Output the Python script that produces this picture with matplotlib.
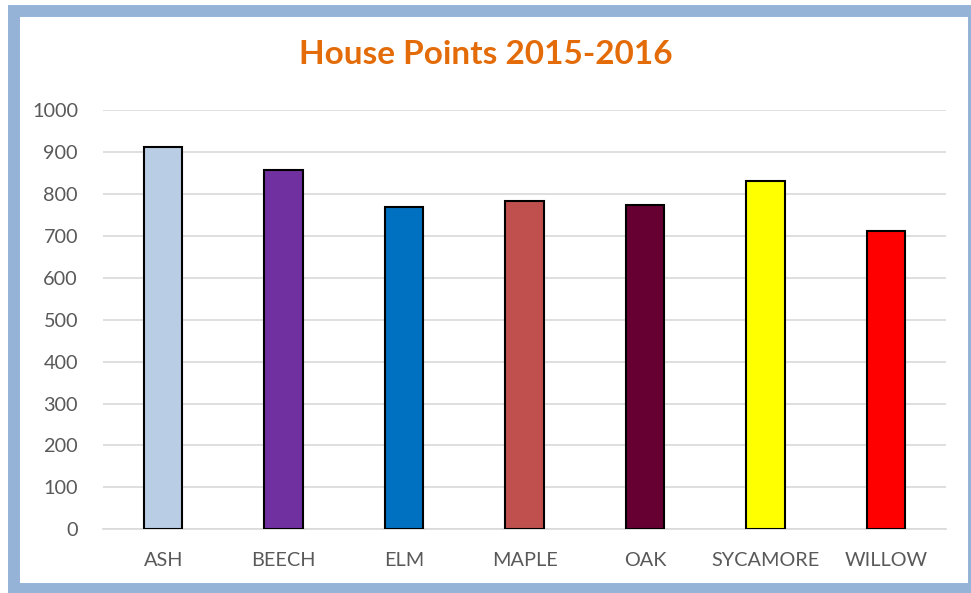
import matplotlib.pyplot as plt
from matplotlib.patches import Rectangle

houses = ['ASH', 'BEECH', 'ELM', 'MAPLE', 'OAK', 'SYCAMORE', 'WILLOW']
points = [911, 857, 769, 782, 773, 830, 711]
colours = ['#B9CDE5', '#7030A0', '#0070C0', '#C0504D', '#660033', '#FFFF00', '#FF0000']

plt.rcParams['font.family'] = ['Lato', 'DejaVu Sans']

fig = plt.figure(figsize=(9.71, 5.93), dpi=100)

# blue frame round the chart
fig.patches.append(Rectangle((14 / 971, 1 - 589 / 593), 960 / 971, 578 / 593,
                             transform=fig.transFigure, facecolor='white',
                             edgecolor='#95B3D7', linewidth=8.6, clip_on=False,
                             zorder=-10))

ax = fig.add_axes([103 / 971, 1 - 529.3 / 593, 843 / 971, 419.3 / 593])
ax.patch.set_alpha(0)

x = range(len(houses))
ax.bar(x, points, width=0.32, color=colours, edgecolor='black', linewidth=1.5, zorder=3)

ax.set_xlim(-0.5, len(houses) - 0.5)
ax.set_ylim(0, 1000)
ax.set_yticks(range(0, 1001, 100))
ax.set_xticks(list(x))
ax.set_xticklabels(houses)
ax.grid(axis='y', color='#D9D9D9', linewidth=1.2, zorder=0)
for s in ['top', 'right', 'left']:
    ax.spines[s].set_visible(False)
ax.spines['bottom'].set_color('#D9D9D9')
ax.spines['bottom'].set_linewidth(1.2)
ax.tick_params(length=0, labelsize=14.3, colors='#595959')
ax.tick_params(axis='x', pad=16)
ax.tick_params(axis='y', pad=18)

fig.text(0.5, 1 - 55 / 593, 'House Points 2015-2016', ha='center', va='center',
         fontsize=24, fontweight='bold', color='#E36C09')

fig.savefig('out.png', dpi=100)
